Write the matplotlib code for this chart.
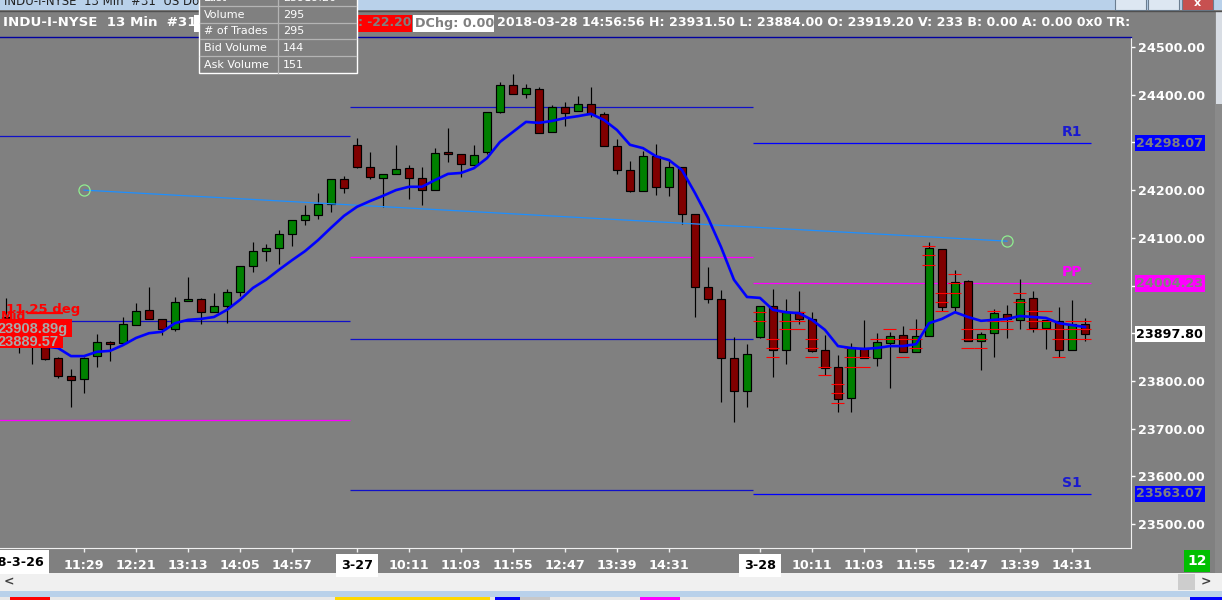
import numpy as np
import matplotlib
matplotlib.use('Agg')
import matplotlib.pyplot as plt
from matplotlib.patches import Rectangle
import matplotlib.transforms as mtransforms

plt.rcParams['font.family'] = ['DejaVu Sans']

# ---------------- data ----------------
first_bar = 4  # index of first (partly) visible 13-min bar, sessions of 31 bars
opens = [23935, 23900, 23905, 23880, 23848, 23810, 23804, 23852, 23882, 23879,
         23917, 23949, 23930, 23909, 23968, 23972, 23944, 23957, 23986, 24041,
         24072, 24079, 24108, 24137, 24148, 24171, 24223,
         24295, 24248, 24225, 24234, 24246, 24225, 24200, 24280, 24276, 24253,
         24280, 24364, 24420, 24401, 24412, 24322, 24374, 24366, 24381, 24360,
         24292, 24242, 24198, 24271, 24207, 24248, 24150, 23997, 23972, 23848,
         23779,
         23892, 23957, 23865, 23944, 23930, 23865, 23829, 23764, 23869, 23848,
         23879, 23896, 23861, 23894, 24077, 23955, 24009, 23884, 23900, 23940,
         23928, 23974, 23911, 23926, 23865, 23919.20]
highs = [23974, 23925, 23920, 23895, 23850, 23825, 23850, 23898, 23884, 23934,
         23963, 23997, 23930, 23976, 24018, 23974, 23984, 23993, 24041, 24091,
         24087, 24116, 24137, 24169, 24194, 24223, 24230,
         24309, 24280, 24234, 24295, 24253, 24248, 24288, 24330, 24276, 24295,
         24364, 24427, 24443, 24422, 24416, 24378, 24385, 24397, 24416, 24364,
         24307, 24261, 24282, 24297, 24263, 24248, 24150, 24039, 23991, 23892,
         23877,
         23957, 23993, 23972, 23989, 23944, 23896, 23854, 23879, 23928, 23900,
         23903, 23915, 23930, 24091, 24077, 24033, 24012, 23903, 23951, 23959,
         24014, 23989, 23928, 23955, 23970, 23931.50]
lows = [23900, 23858, 23835, 23844, 23806, 23745, 23775, 23829, 23842, 23879,
        23917, 23930, 23896, 23905, 23968, 23919, 23944, 23921, 23978, 24028,
        24051, 24045, 24083, 24127, 24139, 24154, 24194,
        24246, 24223, 24165, 24234, 24181, 24169, 24200, 24259, 24227, 24253,
        24276, 24362, 24401, 24393, 24320, 24322, 24334, 24366, 24353, 24292,
        24234, 24196, 24198, 24190, 24188, 24129, 23934, 23963, 23756, 23714,
        23745,
        23890, 23808, 23835, 23919, 23861, 23812, 23735, 23735, 23848, 23831,
        23785, 23861, 23861, 23894, 23947, 23947, 23884, 23823, 23850, 23890,
        23909, 23903, 23867, 23850, 23865, 23884.00]
closes = [23915, 23878, 23875, 23846, 23810, 23802, 23848, 23882, 23877, 23919,
          23947, 23930, 23909, 23965, 23972, 23944, 23957, 23986, 24041, 24072,
          24079, 24108, 24137, 24148, 24171, 24223, 24204,
          24248, 24227, 24234, 24244, 24225, 24200, 24278, 24276, 24255, 24274,
          24364, 24420, 24401, 24414, 24320, 24374, 24362, 24381, 24360, 24292,
          24242, 24198, 24271, 24207, 24248, 24150, 23997, 23972, 23848, 23779,
          23856,
          23957, 23865, 23944, 23930, 23863, 23827, 23762, 23869, 23848, 23882,
          23894, 23861, 23894, 24079, 23955, 24007, 23884, 23898, 23942, 23930,
          23972, 23911, 23928, 23865, 23919, 23897.80]
ma = [23882, 23880, 23876, 23872, 23869, 23852, 23852, 23861, 23863, 23875,
      23890, 23900, 23903, 23921, 23928, 23930, 23934, 23949, 23970, 23995,
      24012, 24033, 24053, 24072, 24095, 24121, 24146,
      24165, 24177, 24188, 24200, 24207, 24207, 24221, 24234, 24236, 24246,
      24267, 24301, 24322, 24343, 24341, 24345, 24351, 24355, 24360, 24347,
      24326, 24295, 24288, 24271, 24263, 24242, 24194, 24142, 24081, 24012,
      23976,
      23974, 23949, 23944, 23942, 23928, 23907, 23873, 23869, 23867, 23869,
      23873, 23873, 23877, 23921, 23930, 23944, 23934, 23926, 23928, 23930,
      23936, 23934, 23932, 23921, 23917, 23913]

session_first = [0, 31, 62]
session_last = [30, 61, 87]

pivot_session = [0, 0, 0, 1, 1, 1, 1, 2, 2, 2]
pivot_price = [24313, 23926, 23718, 24374, 24060, 23888, 23571,
               24298.07, 24004.23, 23563.07]
pivot_kind = ['R', 'R', 'P', 'R', 'P', 'R', 'R', 'R', 'P', 'R']
pivot_names = ['R1', 'PP', 'S1']  # for the current session lines

trend_bars = [10, 81]
trend_prices = [24200, 24093]

# red price-level marks (first bar, last bar, price)
lvl_from = [62, 62, 63, 63, 63, 64, 64, 64, 66, 66, 66, 67, 67, 68, 68, 68,
            69, 69, 69, 71, 72, 72, 73, 73, 74, 74, 74, 75, 75, 75, 76, 76, 76,
            77, 77, 77, 78, 78, 78, 79, 79, 79, 80, 80, 80, 81, 81, 82, 82,
            83, 83, 83, 85, 85, 85, 86, 86, 86]
lvl_to = [62, 62, 63, 63, 63, 65, 65, 65, 66, 66, 66, 67, 67, 68, 68, 68,
          69, 70, 70, 71, 72, 72, 73, 73, 74, 74, 74, 75, 75, 75, 76, 76, 76,
          77, 77, 77, 78, 78, 78, 79, 79, 79, 80, 80, 80, 81, 81, 82, 82,
          84, 84, 84, 85, 85, 85, 87, 87, 87]
lvl_price = [23944, 23926, 23888, 23869, 23850, 23944, 23926, 23909,
             23888, 23869, 23850, 23829, 23812, 23794, 23775, 23754,
             23869, 23850, 23829, 23888, 23909, 23888, 23888, 23850,
             23909, 23888, 23869, 24083, 24064, 24043, 23984, 23965, 23947,
             24024, 24005, 23984, 23909, 23888, 23869, 23909, 23888, 23869,
             23947, 23926, 23909, 23926, 23909, 23984, 23965,
             23947, 23926, 23909, 23909, 23888, 23850, 23926, 23909, 23888]

xtick_bars = [10, 14, 18, 22, 26, 35, 39, 43, 47, 51, 55, 66, 70, 74, 78, 82, 86]
xtick_labels = ['11:29', '12:21', '13:13', '14:05', '14:57',
                '10:11', '11:03', '11:55', '12:47', '13:39', '14:31',
                '10:11', '11:03', '11:55', '12:47', '13:39', '14:31']
date_bars = [31, 62]
date_labels = ['3-27', '3-28']

price_ticks = [23500, 23600, 23700, 23800, 23900, 24000, 24100, 24200, 24300, 24400, 24500]
last_price = 23897.80

tip_rows = ['Volume', '# of Trades', 'Bid Volume', 'Ask Volume']
tip_vals = ['295', '295', '144', '151']

# ---------------- figure ----------------
W, H = 1222, 600
GRAY = '#808080'
fig = plt.figure(figsize=(W / 100, H / 100), dpi=100)
fig.patch.set_facecolor(GRAY)

bg = fig.add_axes([0, 0, 1, 1])
bg.set_xlim(0, W); bg.set_ylim(H, 0); bg.axis('off'); bg.set_zorder(0)

ax = fig.add_axes([0, (H - 548) / H, 1131 / W, (548 - 37) / H])
ax.set_zorder(2)
ax.set_facecolor(GRAY)
ax.set_xlim(3.54, 90.54)
ax.set_ylim(23449.7, 24521)

ov = fig.add_axes([0, 0, 1, 1])
ov.set_xlim(0, W); ov.set_ylim(H, 0); ov.axis('off'); ov.set_zorder(5)
ov.patch.set_alpha(0)

bold = dict(fontweight='bold')

# pivot lines
for s, p, k in zip(pivot_session, pivot_price, pivot_kind):
    x0 = session_first[s] - 0.5
    x1 = session_last[s] + 0.5 if s < 2 else session_last[s] + 0.45
    col = '#ff00ff' if k == 'P' else ('#0000ff' if s == 2 else '#1010c8')
    ax.plot([x0, x1], [p, p], color=col, lw=0.9, zorder=1, solid_capstyle='butt')
cur = [p for s, p in zip(pivot_session, pivot_price) if s == 2]
cur_kind = [k for s, k in zip(pivot_session, pivot_kind) if s == 2]
for name, p, k in zip(pivot_names, cur, cur_kind):
    ax.annotate(name, (86, p), xytext=(0, 8), textcoords='offset points',
                ha='center', va='center', fontsize=10, fontweight='bold',
                color='#ff00ff' if k == 'P' else '#1a1ad0', zorder=6)

# candles
bars = np.arange(first_bar, first_bar + len(opens))
bw = 0.66
for b, o, h, l, c in zip(bars, opens, highs, lows, closes):
    ax.plot([b, b], [l, h], color='black', lw=0.85, zorder=2, solid_capstyle='butt')
    up = c >= o
    ax.add_patch(Rectangle((b - bw / 2, min(o, c)), bw, max(abs(c - o), 2.5),
                           facecolor='#008000' if up else '#800000',
                           edgecolor='black', lw=0.85, zorder=3))

# red level marks
for a, b2, p in zip(lvl_from, lvl_to, lvl_price):
    ax.plot([a - 0.5, b2 + 0.5], [p, p], color='#ff0000', lw=0.8, zorder=4,
            solid_capstyle='butt')

# trend line
ax.plot(trend_bars, trend_prices, color='#1e8fff', lw=0.9, zorder=4)
ax.plot(trend_bars, trend_prices, 'o', mfc='none', mec='#90ee90', ms=8, mew=0.9, zorder=6)

# moving average
ax.plot(bars, ma, color='#0000ff', lw=1.9, zorder=5)

# axes styling
ax.spines['left'].set_visible(False)
ax.spines['top'].set_color('#0000a0')
ax.spines['top'].set_linewidth(1)
ax.spines['right'].set_color('#f0f0f0')
ax.spines['bottom'].set_color('#f0f0f0')
ax.yaxis.tick_right()
hidden = [24300, 24000, 23900]
ax.set_yticks(price_ticks)
ax.set_yticklabels(['' if t in hidden else f'{t:.2f}' for t in price_ticks])
ax.tick_params(axis='y', colors='white', length=3, width=1, pad=2,
               labelsize=9.2, labelcolor='white')
for lab in ax.get_yticklabels():
    lab.set_fontweight('bold')

tr = mtransforms.blended_transform_factory(ax.transAxes, ax.transData)
special = [(cur[0], '#0000ff', GRAY), (cur[1], '#ff00ff', GRAY),
           (last_price, 'white', 'black'), (cur[2], '#0000ff', GRAY)]
for p, fc, tc in special:
    ax.text(1.0048, p, f'{p:.2f}', transform=tr, ha='left', va='center',
            fontsize=9.2, fontweight='bold', color=tc, clip_on=False, zorder=10,
            bbox=dict(boxstyle='square,pad=0.12', fc=fc, ec='none'))

ax.set_xticks(xtick_bars + date_bars)
ax.set_xticklabels(xtick_labels + date_labels)
ax.tick_params(axis='x', colors='#f0f0f0', length=3, width=1, pad=5,
               labelsize=9.2, labelcolor='white')
for lab in ax.get_xticklabels():
    lab.set_fontweight('bold')
    if lab.get_text() in date_labels:
        lab.set_color('black')
        lab.set_bbox(dict(boxstyle='square,pad=0.42', fc='white', ec='none'))

# ---------------- chrome (pixel coords) ----------------
# title bar
bg.add_patch(Rectangle((0, 0), W, 10, fc='#b9d1ea', ec='none'))
bg.plot([0, W], [10.5, 10.5], color='#505050', lw=1)
bg.text(4, 1, 'INDU-I-NYSE  13 Min  #31  US Dow Jones Industrial Average',
        fontsize=8.5, color='#202020', va='center', ha='left')
for x0, w, fc in [(1115, 31, '#dde7f2'), (1148, 31, '#dde7f2'), (1182, 31, '#c75050')]:
    bg.add_patch(Rectangle((x0, -2), w, 12, fc=fc, ec='#6b7d90', lw=0.8))
bg.text(1197, 3, 'x', color='white', fontsize=8, ha='center', va='center', **bold)
bg.add_patch(Rectangle((1215, 10), 7, 564, fc='#8a8a8a', ec='none'))
bg.add_patch(Rectangle((1216, 12), 6, 92, fc='#d8dde4', ec='none'))

# bottom bars
bg.add_patch(Rectangle((0, 573), W, 18, fc='#f0f0f0', ec='none'))
bg.add_patch(Rectangle((1178, 574), 17, 16, fc='#cdcdcd', ec='none'))
bg.text(4, 582, '<', fontsize=9, color='#404040', va='center', ha='left', **bold)
bg.text(1206, 582, '>', fontsize=9, color='#404040', va='center', ha='center', **bold)
bg.add_patch(Rectangle((0, 591), W, 6, fc='#b9d1ea', ec='none'))
bg.add_patch(Rectangle((0, 597), W, 3, fc='#e8e8e8', ec='none'))
for x0, w, fc in [(10, 40, '#ff0000'), (335, 155, '#ffd800'), (495, 35, '#0000ff'),
                  (520, 30, '#c8c8c8'), (640, 40, '#ff00ff'), (1190, 40, '#0000ff')]:
    bg.add_patch(Rectangle((x0, 597), w, 3, fc=fc, ec='none'))

# green bar counter
ov.add_patch(Rectangle((1184, 550), 26, 22, fc='#00c000', ec='none'))
ov.text(1197, 561, '12', color='white', fontsize=10, ha='center', va='center', **bold)

# left date label (clipped at figure edge)
ov.text(44, 562, '2018-3-26', color='black', fontsize=9.2, ha='right', va='center',
        bbox=dict(boxstyle='square,pad=0.42', fc='white', ec='none'), **bold)

# header texts
ov.text(3, 23, 'INDU-I-NYSE  13 Min  #31', color='white', fontsize=9.6,
        ha='left', va='center', **bold)
ov.add_patch(Rectangle((194, 15), 6, 17, fc='white', ec='none'))
ov.add_patch(Rectangle((357, 15), 55, 17, fc='#ff0000', ec='none'))
ov.text(357.5, 23, ': -22.20', color=GRAY, fontsize=8.9, ha='left', va='center', **bold)
ov.add_patch(Rectangle((413, 15), 81, 17, fc='white', ec='none'))
ov.text(415, 23, 'DChg: 0.00', color=GRAY, fontsize=9.2, ha='left', va='center', **bold)
ov.text(497, 23, '2018-03-28 14:56:56 H: 23931.50 L: 23884.00 O: 23919.20 V: 233 '
        'B: 0.00 A: 0.00 0x0 TR:', color='white', fontsize=9.1, ha='left',
        va='center', **bold)

# tooltip window
ov.add_patch(Rectangle((199, -6), 158, 79, fc=GRAY, ec='white', lw=1))
ov.plot([278, 278], [-6, 73], color='#b4b4b4', lw=0.9)
for yl in [6, 23, 39, 56]:
    ov.plot([200, 356], [yl, yl], color='#b4b4b4', lw=0.9)
ov.text(204, -2, 'Last', color='white', fontsize=8, ha='left', va='center')
ov.text(283, -2, '23919.20', color='white', fontsize=8, ha='left', va='center')
for i, (r, v) in enumerate(zip(tip_rows, tip_vals)):
    yy = 14.5 + i * 16.8
    ov.text(204, yy, r, color='white', fontsize=8, ha='left', va='center')
    ov.text(283, yy, v, color='white', fontsize=8, ha='left', va='center')

# left drawing-tool labels
ov.text(6, 309, '11.25 deg', color='#ff0000', fontsize=9.5, ha='left', va='center', **bold)
ov.plot([28, 62], [312.5, 312.5], color='#ff0000', lw=1.6)
ov.text(1, 316, 'Mid', color='#ff0000', fontsize=9, ha='left', va='center', **bold)
ov.add_patch(Rectangle((0, 333), 63, 15, fc='#ff0000', ec='none'))
ov.text(-2, 342, '23889.57', color='#a8a8a8', fontsize=10.5, ha='left', va='center',
        family='Liberation Sans', fontweight='bold')
ov.add_patch(Rectangle((0, 319), 72, 18, fc='#ff0000', ec='none'))
ov.text(-2, 328.5, '23908.89g', color='#a8a8a8', fontsize=10.5, ha='left', va='center',
        family='Liberation Sans', fontweight='bold')

fig.savefig('out.png', dpi=100, facecolor=GRAY)
